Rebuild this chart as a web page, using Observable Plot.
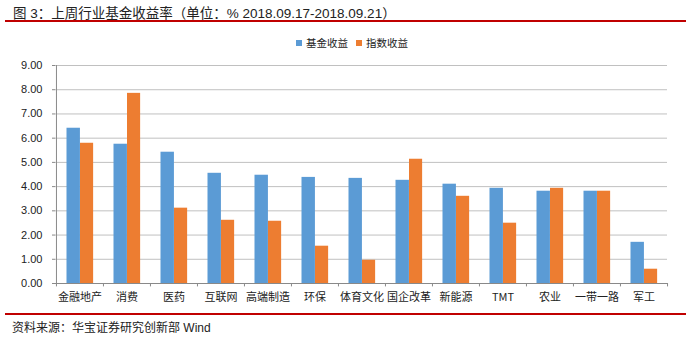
<!DOCTYPE html>
<html>
<head>
<meta charset="utf-8">
<script src="https://cdn.jsdelivr.net/npm/d3@7"></script>
<script src="https://cdn.jsdelivr.net/npm/@observablehq/plot@0.6"></script>
<style>
  html, body { margin: 0; padding: 0; background: #fff; }
  #wrap { position: relative; width: 691px; height: 339px; overflow: hidden; font-family: "Liberation Sans", Arial, "Noto Sans CJK SC", sans-serif; }
  #title { position: absolute; left: 13px; top: 2px; font-size: 13.5px; color: #222; white-space: nowrap; letter-spacing: 0px; }
  .redline { position: absolute; left: 5px; width: 681px; height: 2px; background: #C00000; }
  #legend { position: absolute; top: 35px; left: 296px; font-size: 10.5px; color: #222; white-space: nowrap; font-family: "Noto Sans CJK SC", sans-serif; }
  #legend span.sw { display: inline-block; width: 6px; height: 6px; margin-right: 4px; vertical-align: 1px; }
  #legend span.item { margin-right: 8px; }
  #caption { position: absolute; left: 12px; top: 318px; font-size: 12px; color: #222; white-space: nowrap; }
  #chart { position: absolute; left: 0; top: 0; }
</style>
</head>
<body>
<div id="wrap">
  <div id="chart"></div>
  <div id="title"></div>
  <div class="redline" style="top:20px"></div>
  <div id="legend"></div>
  <div class="redline" style="top:313px"></div>
  <div id="caption"></div>
</div>
<script>
const titleText = "图 3：上周行业基金收益率（单位：% 2018.09.17-2018.09.21）";
const captionText = "资料来源：华宝证券研究创新部 Wind";
const seriesNames = ["基金收益", "指数收益"];
const categories = ["金融地产", "消费", "医药", "互联网", "高端制造", "环保", "体育文化", "国企改革", "新能源", "TMT", "农业", "一带一路", "军工"];
const fundReturns = [6.41, 5.75, 5.42, 4.55, 4.47, 4.38, 4.34, 4.26, 4.10, 3.93, 3.81, 3.81, 1.70];
const indexReturns = [5.79, 7.85, 3.11, 2.61, 2.57, 1.54, 0.96, 5.13, 3.60, 2.49, 3.93, 3.81, 0.59];
const yTicks = [0, 1, 2, 3, 4, 5, 6, 7, 8, 9];
const colors = ["#5B9BD5", "#ED7D31"];

document.getElementById("title").textContent = titleText;
document.getElementById("caption").textContent = captionText;
document.getElementById("legend").innerHTML = seriesNames.map((s, i) =>
  `<span class="item"><span class="sw" style="background:${colors[i]}"></span>${s}</span>`).join("");

const rows = categories.map((c, i) => ({cat: c, fund: fundReturns[i], idx: indexReturns[i]}));

const width = 691, marginLeft = 55, marginRight = 24;
const bw = (width - marginLeft - marginRight) / categories.length;
const axisGray = "#898989", gridGray = "#C0C0C0";

const chart = Plot.plot({
  width,
  height: 305,
  marginLeft,
  marginRight,
  marginTop: 65,
  marginBottom: 22,
  style: {fontFamily: "\"Noto Sans CJK SC\", sans-serif", background: "transparent", overflow: "visible"},
  x: {type: "band", domain: categories, paddingInner: 0, paddingOuter: 0, axis: null, label: null},
  y: {domain: [0, 9], axis: null, label: null},
  marks: [
    Plot.ruleY(yTicks.slice(1), {stroke: gridGray, strokeWidth: 1}),
    Plot.barY(rows, {x: "cat", y: "fund", fill: colors[0], insetLeft: 10.5, insetRight: bw - 24}),
    Plot.barY(rows, {x: "cat", y: "idx", fill: colors[1], insetLeft: 24, insetRight: bw - 37.2}),
    Plot.ruleY([0], {stroke: axisGray, strokeWidth: 1}),
    Plot.ruleX([categories[0]], {x: d => d, dx: -bw / 2, y1: 0, y2: 9, stroke: axisGray}),
    Plot.ruleX(categories, {x: d => d, dx: -bw / 2, y1: 0, y2: -0.14, stroke: axisGray}),
    Plot.ruleX([categories[categories.length - 1]], {x: d => d, dx: bw / 2, y1: 0, y2: -0.14, stroke: axisGray}),
    Plot.axisY(yTicks, {tickSize: 3, tickPadding: 10, tickFormat: d3.format(".2f"), stroke: axisGray, fill: "#222", fontSize: 11, label: null, fontFamily: "\"Liberation Sans\", Arial, sans-serif"}),
    Plot.axisX(categories, {tickSize: 0, tickPadding: 10, fill: "#222", fontSize: 11, label: null})
  ]
});
document.getElementById("chart").appendChild(chart);
</script>
</body>
</html>
